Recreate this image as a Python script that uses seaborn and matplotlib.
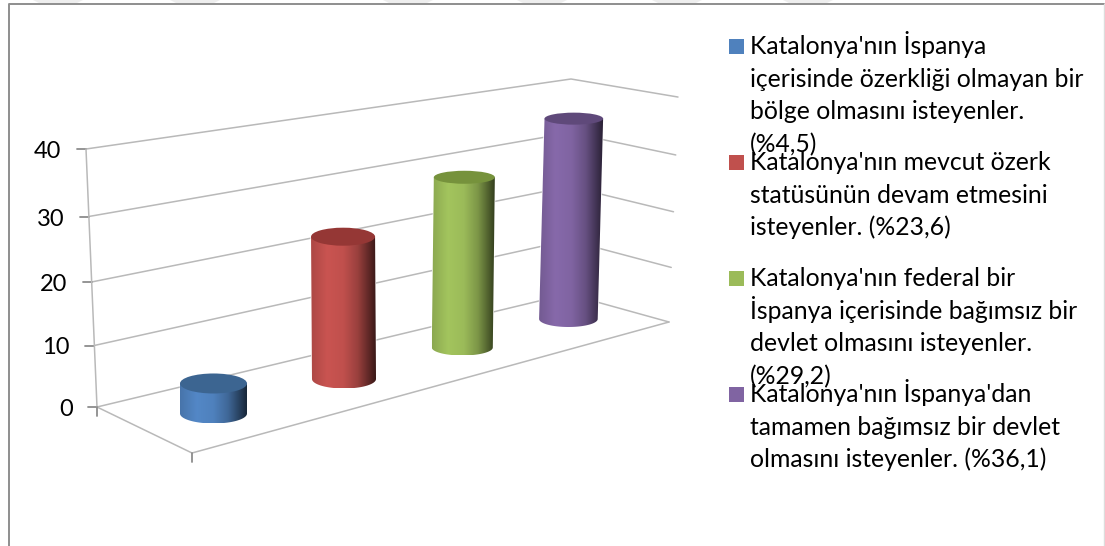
import numpy as np
import pandas as pd
import matplotlib
matplotlib.use('Agg')
import matplotlib.pyplot as plt
from matplotlib.colors import to_rgb
from matplotlib.patches import Ellipse, Polygon, Rectangle
from matplotlib.transforms import Affine2D
import seaborn as sns

# Data
categories = ['Özerkliksiz bölge', 'Mevcut özerk statü', 'Federal devlet', 'Bağımsız devlet']
values = [4.5, 23.6, 29.2, 36.1]
y_ticks = [0, 10, 20, 30, 40]
colors = ['#4F81BD', '#C0504D', '#9BBB59', '#8064A2']
top_colors = ['#3C6591', '#953735', '#76923C', '#5F497A']
legend_lines = [
    ["Katalonya'nın İspanya", "içerisinde özerkliği olmayan bir", "bölge olmasını isteyenler.", "(%4,5)"],
    ["Katalonya'nın mevcut özerk", "statüsünün devam etmesini", "isteyenler. (%23,6)"],
    ["Katalonya'nın federal bir", "İspanya içerisinde bağımsız bir", "devlet olmasını isteyenler.", "(%29,2)"],
    ["Katalonya'nın İspanya'dan", "tamamen bağımsız bir devlet", "olmasını isteyenler. (%36,1)"],
]

sns.set_theme(style='white')
plt.rcParams['font.family'] = ['Lato', 'Open Sans', 'DejaVu Sans']

W, H = 1105, 546
fig = plt.figure(figsize=(W / 100, H / 100), dpi=100)
ax = fig.add_axes([0, 0, 1, 1])


# Fake 3D projection, all in pixels of the picture
def wall_left(level):
    return 97 - 0.275 * level, 407 - 6.05 * level - 0.01 * level ** 2

def wall_back(level):
    return 568 + 0.075 * level, 294 - 5.375 * level

def wall_right(level):
    return 669 + 0.225 * level, 322 - 5.4 * level - 0.0056 * level ** 2

def slot_x(c):
    return 213.5 + 136.6 * c - 6.1 * c ** 2

def slot_y(c):
    return 413.5 - 36 * c + 1.5 * c ** 2

slot_scale = [6.67, 6.03, 5.83, 5.55]   # px per unit, shrinks with depth
slot_lean = [0.0, -0.04, 0.07, 0.15]    # px sideways per unit
slot_rx = [33.5, 32.0, 30.5, 29.3]
slot_ry = [10.0, 9.5, 8.0, 8.0]
slot_ry_top = [10.0, 9.0, 6.5, 6.0]

# Bars come from seaborn, then each one is pushed into the projection
df = pd.DataFrame({'category': categories, 'value': values})
sns.barplot(data=df, x='category', y='value', hue='category', palette=colors,
            legend=False, width=0.8, saturation=1, ax=ax, zorder=2)

grid_col = '#b9b9b9'
for level in y_ticks:
    a, b, c = wall_left(level), wall_back(level), wall_right(level)
    ax.plot([a[0], b[0], c[0]], [a[1], b[1], c[1]], color=grid_col, lw=1.1, zorder=1)
    ax.plot([a[0] - 9, a[0]], [a[1], a[1]], color='#8c8c8c', lw=1.3, zorder=1)
    ax.text(a[0] - 24.5, a[1] + 9, str(level), ha='right', va='baseline', fontsize=17, color='black')

# Axis line and floor
top, bottom = wall_left(40), wall_left(0)
ax.plot([top[0], bottom[0]], [top[1], bottom[1]], color=grid_col, lw=1.1, zorder=1)
front = (192, 453)
floor_x = [bottom[0], front[0], wall_right(0)[0]]
floor_y = [bottom[1], front[1], wall_right(0)[1]]
ax.plot(floor_x, floor_y, color=grid_col, lw=1.1, zorder=1)
ax.plot([front[0], front[0]], [front[1], front[1] + 9], color='#8c8c8c', lw=1.3, zorder=1)
ax.plot([bottom[0], bottom[0]], [bottom[1], bottom[1] + 9], color='#8c8c8c', lw=1.3, zorder=1)

stops = [0, 0.25, 0.5, 0.72, 0.88, 1]
shade = [0.9, 1.05, 1.0, 0.8, 0.52, 0.3]
ts = np.linspace(0, 1, 200)

for i, patch in enumerate(sorted(ax.patches, key=lambda p: p.get_x())):
    val = patch.get_height()
    rx, ry, lean, scale = slot_rx[i], slot_ry[i], slot_lean[i], slot_scale[i]
    x0, y0 = slot_x(i), slot_y(i)
    x1, y1 = x0 + lean * val, y0 - scale * val

    k = rx / 0.4
    mat = np.array([[k, lean, x0 - i * k], [0, -scale, y0], [0, 0, 1]])
    patch.set_transform(Affine2D(mat) + ax.transData)

    # Body outline: lower half of bottom ellipse, up to the top ellipse
    th = np.linspace(np.pi, 0, 60)
    outline = np.column_stack([x0 + rx * np.cos(th), y0 + ry * np.sin(th)])
    outline = np.vstack([outline, [x1 + rx, y1], [x1 - rx, y1]])
    clip = Polygon(outline, closed=True, transform=ax.transData, fc='none', ec='none')
    ax.add_patch(clip)

    base = np.array(to_rgb(colors[i]))
    grad = np.clip(np.outer(np.interp(ts, stops, shade), base), 0, 1)[None, :, :]
    xl, xr = min(x0, x1) - rx, max(x0, x1) + rx
    im = ax.imshow(grad, extent=[xl, xr, y0 + ry, y1], aspect='auto', zorder=3, interpolation='bilinear')
    im.set_clip_path(clip)

    ax.add_patch(Ellipse((x1, y1), 2 * rx, 2 * slot_ry_top[i], fc=top_colors[i], ec='none', zorder=4))

# Legend, lines overlap like in the original
group_base = [54, 170, 286, 402]
line_gap = 32.6
for g, lines in enumerate(legend_lines):
    ax.add_patch(Rectangle((728.5, group_base[g] - 15), 15, 15, fc=colors[g], ec='none', zorder=5))
    for n, line in enumerate(lines):
        ax.text(749.5, group_base[g] + n * line_gap, line, ha='left', va='baseline',
                fontsize=17.8, color='black', zorder=6)

# Frame and the grey shapes cut off at the top edge
for sx in [33, 170, 383, 517, 652, 783]:
    ax.add_patch(Polygon([(sx, 0), (sx + 50, 0), (sx + 44, 3), (sx + 6, 3)], fc='#eeeeee', ec='none', zorder=0))
ax.plot([8.5, 8.5, 1104], [H, 3.5, 3.5], color='#8e8e8e', lw=1.4, zorder=7)
ax.plot([1104, 1104], [3.5, H], color='#dddddd', lw=1, zorder=7)

ax.set_xlim(0, W)
ax.set_ylim(H, 0)
ax.set_axis_off()

fig.savefig('out.png', dpi=100, facecolor='white')
